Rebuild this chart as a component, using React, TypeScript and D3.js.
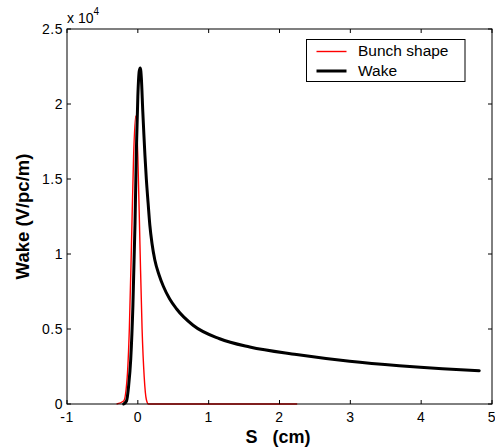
import React from "react";
import * as d3 from "d3";

const wakeS = [-0.2, -0.16, -0.13, -0.1, -0.07, -0.04, -0.02, 0.0, 0.02, 0.035, 0.05, 0.07, 0.085, 0.1, 0.12, 0.145, 0.17, 0.2, 0.24, 0.3, 0.36, 0.45, 0.545, 0.78, 1.155, 1.58, 2.24, 2.99, 3.69, 4.3, 4.82];
const wakeV = [0, 0.02, 0.12, 0.3, 0.65, 1.2, 1.7, 2.05, 2.22, 2.24, 2.17, 1.95, 1.8, 1.66, 1.5, 1.34, 1.19, 1.07, 0.96, 0.86, 0.785, 0.7, 0.635, 0.525, 0.435, 0.38, 0.33, 0.285, 0.255, 0.235, 0.222];

const bunchS = [-0.3, -0.2, -0.15, -0.12, -0.09, -0.06, -0.03, 0.0, 0.03, 0.06, 0.09, 0.12, 0.15, 0.4, 2.25];
const bunchV = [0, 0.02, 0.18, 0.5, 1.06, 1.65, 1.92, 1.65, 1.06, 0.5, 0.18, 0.03, 0, 0, 0];

const xTicks = [-1, 0, 1, 2, 3, 4, 5];
const yTicks = [0, 0.5, 1, 1.5, 2, 2.5];
const yTickLabels = ["0", "0.5", "1", "1.5", "2", "2.5"];

const W = 495, H = 448;
const L = 67, R = 492, T = 29, B = 404;
const font = "Liberation Sans, Arial, sans-serif";

export default function App() {
  const x = d3.scaleLinear().domain([-1, 5]).range([L, R]);
  const y = d3.scaleLinear().domain([0, 2.5]).range([B, T]);
  const line = d3.line<[number, number]>().x(d => x(d[0])).y(d => y(d[1])).curve(d3.curveMonotoneX);
  const wake = line(wakeS.map((s, i) => [s, wakeV[i]]) as [number, number][]) || "";
  const bunch = line(bunchS.map((s, i) => [s, bunchV[i]]) as [number, number][]) || "";
  const tl = 4;
  return (
    <svg width={W} height={H} style={{ position: "absolute", left: 0, top: 0, background: "#fff" }} fontFamily={font}>
      <rect x={0} y={0} width={W} height={H} fill="#fff" />
      <path d={bunch} fill="none" stroke="#ff0000" strokeWidth={1.4} />
      <path d={wake} fill="none" stroke="#000" strokeWidth={3} strokeLinejoin="round" strokeLinecap="round" />
      <rect x={L} y={T} width={R - L} height={B - T} fill="none" stroke="#000" strokeWidth={1} />
      {xTicks.map(t => (
        <g key={"x" + t}>
          <line x1={x(t)} x2={x(t)} y1={B} y2={B - tl} stroke="#000" />
          <line x1={x(t)} x2={x(t)} y1={T} y2={T + tl} stroke="#000" />
          <text x={x(t)} y={422} fontSize={14} textAnchor="middle" letterSpacing={0.5}>{t}</text>
        </g>
      ))}
      {yTicks.map((t, i) => (
        <g key={"y" + t}>
          <line x1={L} x2={L + tl} y1={y(t)} y2={y(t)} stroke="#000" />
          <line x1={R} x2={R - tl} y1={y(t)} y2={y(t)} stroke="#000" />
          <text x={63} y={y(t) + 5} fontSize={14} textAnchor="end" letterSpacing={0.5}>{yTickLabels[i]}</text>
        </g>
      ))}
      <text x={67} y={23} fontSize={14}>x 10<tspan dy={-8} fontSize={10}>4</tspan></text>
      <text x={278} y={443} fontSize={18} fontWeight="bold" textAnchor="middle" style={{ whiteSpace: "pre" }}>{"S   (cm)"}</text>
      <text transform={`translate(29,${(T + B) / 2}) rotate(-90)`} fontSize={18.5} fontWeight="bold" textAnchor="middle">Wake (V/pc/m)</text>
      <rect x={306.5} y={39.5} width={158.5} height={42} fill="#fff" stroke="#000" strokeWidth={1} />
      <line x1={316.5} x2={346.5} y1={51.5} y2={51.5} stroke="#ff0000" strokeWidth={1.4} />
      <line x1={316.5} x2={346.5} y1={71} y2={71} stroke="#000" strokeWidth={3} />
      <text x={358} y={56} fontSize={15.5}>Bunch shape</text>
      <text x={358} y={75.5} fontSize={15.5}>Wake</text>
    </svg>
  );
}
